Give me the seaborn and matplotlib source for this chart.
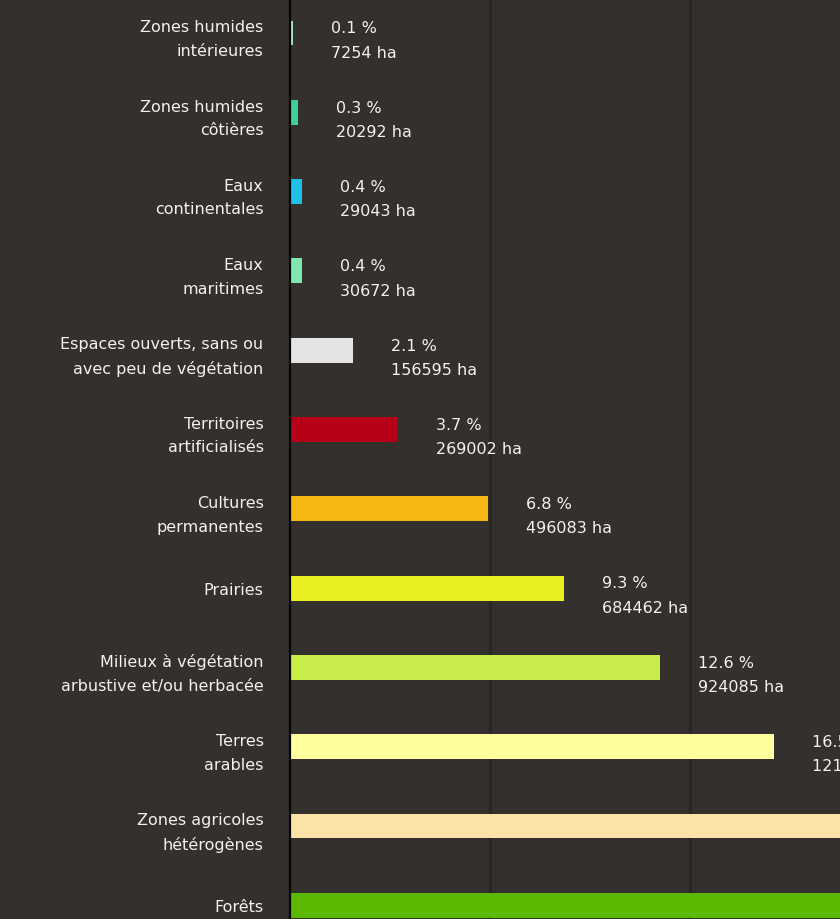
import matplotlib
matplotlib.use("Agg")
import matplotlib.pyplot as plt
import seaborn as sns
import pandas as pd

categories = [
    "Zones humides\nintérieures",
    "Zones humides\ncôtières",
    "Eaux\ncontinentales",
    "Eaux\nmaritimes",
    "Espaces ouverts, sans ou\navec peu de végétation",
    "Territoires\nartificialisés",
    "Cultures\npermanentes",
    "Prairies",
    "Milieux à végétation\narbustive et/ou herbacée",
    "Terres\narables",
    "Zones agricoles\nhétérogènes",
    "Forêts",
]
hectares = [7254, 20292, 29043, 30672, 156595, 269002, 496083, 684462, 924085, 1210000, 1475000, 2040000]
percents = [0.1, 0.3, 0.4, 0.4, 2.1, 3.7, 6.8, 9.3, 12.6, 16.5, 20.1, 27.8]
colors = ["#a8e0d2", "#3ecf9c", "#1ec0e8", "#7ee8b0", "#e4e4e4", "#b50018",
          "#f5b812", "#e8f023", "#c8ec4a", "#ffffa0", "#fde2a8", "#5cb800"]

BG = "#33302d"
GRID = "#282624"

sns.set_theme(style="dark")
plt.rcParams["font.family"] = ["DejaVu Sans"]

W, H = 840, 920
fig = plt.figure(figsize=(W / 100, H / 100), dpi=100)
fig.patch.set_facecolor(BG)

# axes extends beyond the figure (chart is cropped)
px_per_unit = 79.3
top_px = 34 - 0.5 * px_per_unit
bot_px = 34 + 11.5 * px_per_unit
left_px = 290
right_px = 290 + 1000
ax = fig.add_axes([left_px / W, (H - bot_px) / H, (right_px - left_px) / W, (bot_px - top_px) / H])
ax.set_facecolor(BG)

df = pd.DataFrame({"cat": categories, "ha": hectares})
sns.barplot(data=df, x="ha", y="cat", hue="cat", palette=colors, legend=False,
            width=0.315, orient="h", ax=ax, saturation=1, linewidth=0, edgecolor="none")

xmax = 2500000
ax.set_xlim(0, xmax)
ax.set_ylim(11.5, -0.5)
ax.set_xticks([500000, 1000000, 1500000, 2000000])
ax.set_xticklabels([])
ax.grid(axis="x", color=GRID, linewidth=2.2)
ax.grid(axis="y", visible=False)
ax.set_axisbelow(True)
ax.set_xlabel("")
ax.set_ylabel("")
for s in ["top", "right", "bottom"]:
    ax.spines[s].set_visible(False)
ax.spines["left"].set_color("#050505")
ax.spines["left"].set_linewidth(1.6)
ax.tick_params(axis="x", length=0)
ax.tick_params(axis="y", length=8, width=1.3, color="#181614", pad=11,
               labelcolor="#f2f2f2", labelsize=11.5)
for t in ax.get_yticklabels():
    t.set_linespacing(1.7)

# visible x-range in data units (figure right edge)
visible_max = (W - left_px) / (right_px - left_px) * xmax
for i, (h, p) in enumerate(zip(hectares, percents)):
    if h > visible_max:
        continue  # label lies outside the cropped picture
    ax.annotate(f"{p} %\n{h} ha", xy=(h, i), xytext=(38, -7),
                textcoords="offset pixels", ha="left", va="center",
                color="#f2f2f2", fontsize=11.5, linespacing=1.78,
                annotation_clip=False)

fig.savefig("out.png", dpi=100, facecolor=BG)
